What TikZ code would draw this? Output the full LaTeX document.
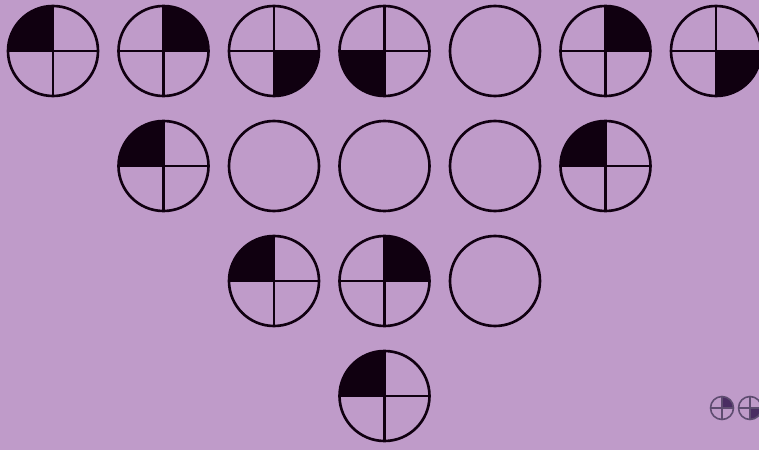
\documentclass[tikz,border=0pt]{standalone}
\usepackage{tikz}

\definecolor{lilla}{HTML}{BF9BC9}
\definecolor{inchiostro}{HTML}{100010}
\definecolor{tenue}{HTML}{5E4C70}
\definecolor{tenuefill}{HTML}{4A2D62}

\tikzset{
  disco/.style={draw=inchiostro,line width=0.75pt},
  spicchio/.style={fill=inchiostro},
  piccolo/.style={draw=tenue,line width=0.45pt},
  spicchiopiccolo/.style={fill=tenuefill}
}

\begin{document}
\begin{tikzpicture}[scale=1]
  \useasboundingbox (0,0) rectangle (7.59,4.5);
  \fill[lilla] (0,0) rectangle (7.59,4.5);
  \clip (0,0) rectangle (7.59,4.5);

  % cerchi con un quarto pieno (x/y/angolo iniziale)
  \foreach \cx/\cy/\q in {0.53/3.99/90, 1.635/3.99/0, 2.74/3.99/270, 3.845/3.99/180,
      6.055/3.99/0, 7.16/3.99/270,
      1.635/2.84/90, 6.055/2.84/90,
      2.74/1.69/90, 3.845/1.69/0,
      3.845/0.54/90}{
    \fill[spicchio] (\cx,\cy) -- ++(\q:0.45) arc[start angle=\q, end angle=\q+90, radius=0.45] -- cycle;
    \draw[disco] (\cx,\cy) circle (0.45);
    \draw[disco] (\cx-0.45,\cy) -- (\cx+0.45,\cy);
    \draw[disco] (\cx,\cy-0.45) -- (\cx,\cy+0.45);
  }

  % cerchi vuoti
  \foreach \cx/\cy in {4.95/3.99, 2.74/2.84, 3.845/2.84, 4.95/2.84, 4.95/1.69}
    \draw[disco] (\cx,\cy) circle (0.45);

  % cerchietti in basso a destra
  \foreach \cx/\q in {7.22/0, 7.50/270}{
    \fill[spicchiopiccolo] (\cx,0.42) -- ++(\q:0.115) arc[start angle=\q, end angle=\q+90, radius=0.115] -- cycle;
    \draw[piccolo] (\cx,0.42) circle (0.115);
    \draw[piccolo] (\cx-0.115,0.42) -- (\cx+0.115,0.42);
    \draw[piccolo] (\cx,0.305) -- (\cx,0.535);
  }
\end{tikzpicture}
\end{document}
